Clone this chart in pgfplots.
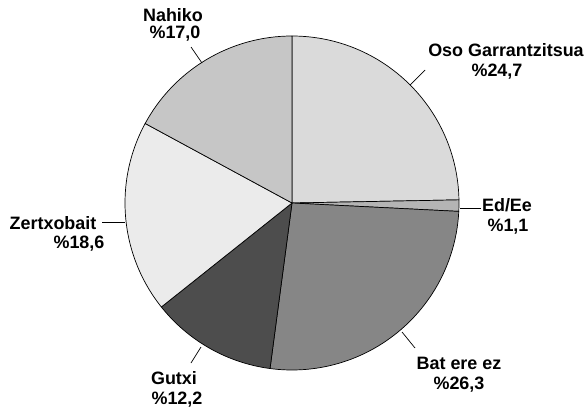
\documentclass[border=0pt]{standalone}
\usepackage{pgfplots}
\pgfplotsset{compat=1.18}
\usepackage{fontspec}
\setmainfont{Liberation Sans}
\definecolor{cOso}{HTML}{DADADA}
\definecolor{cEd}{HTML}{B4B4B4}
\definecolor{cBat}{HTML}{868686}
\definecolor{cGut}{HTML}{4D4D4D}
\definecolor{cZer}{HTML}{EBEBEB}
\definecolor{cNah}{HTML}{C6C6C6}
% data (percent), clockwise from 12 o'clock
\def\vOso{24.7}
\def\vEd{1.1}
\def\vBat{26.3}
\def\vGut{12.2}
\def\vZer{18.6}
\def\vNah{17.0}
\def\R{167bp}
\begin{document}
\begin{tikzpicture}
\begin{axis}[scale only axis, width=588bp, height=409bp,
  xmin=0, xmax=588, ymin=0, ymax=409, y dir=reverse,
  hide axis, clip=false]
\path (axis cs:0,0) rectangle (axis cs:588,409);
\tikzset{sec/.style={draw=black, line width=0.7bp, line join=round}}
\fill[cOso, sec] (axis cs:292,203) -- ++(90:\R) arc[start angle=90, end angle={90-(\vOso)*3.6}, radius=\R] -- cycle;
\fill[cEd, sec] (axis cs:292,203) -- ++({90-(\vOso)*3.6}:\R) arc[start angle={90-(\vOso)*3.6}, end angle={90-(\vOso+\vEd)*3.6}, radius=\R] -- cycle;
\fill[cBat, sec] (axis cs:292,203) -- ++({90-(\vOso+\vEd)*3.6}:\R) arc[start angle={90-(\vOso+\vEd)*3.6}, end angle={90-(\vOso+\vEd+\vBat)*3.6}, radius=\R] -- cycle;
\fill[cGut, sec] (axis cs:292,203) -- ++({90-(\vOso+\vEd+\vBat)*3.6}:\R) arc[start angle={90-(\vOso+\vEd+\vBat)*3.6}, end angle={90-(\vOso+\vEd+\vBat+\vGut)*3.6}, radius=\R] -- cycle;
\fill[cZer, sec] (axis cs:292,203) -- ++({90-(\vOso+\vEd+\vBat+\vGut)*3.6}:\R) arc[start angle={90-(\vOso+\vEd+\vBat+\vGut)*3.6}, end angle={90-(\vOso+\vEd+\vBat+\vGut+\vZer)*3.6}, radius=\R] -- cycle;
\fill[cNah, sec] (axis cs:292,203) -- ++({90-(\vOso+\vEd+\vBat+\vGut+\vZer)*3.6}:\R) arc[start angle={90-(\vOso+\vEd+\vBat+\vGut+\vZer)*3.6}, end angle=-270, radius=\R] -- cycle;
% leader lines
\draw[line width=0.7bp] (axis cs:191,47) -- (axis cs:202,63);
\draw[line width=0.7bp] (axis cs:425,70) -- (axis cs:410,85);
\draw[line width=0.7bp] (axis cs:460,208) -- (axis cs:481,208);
\draw[line width=0.7bp] (axis cs:402,332) -- (axis cs:415,348);
\draw[line width=0.7bp] (axis cs:201,347) -- (axis cs:191,363);
\draw[line width=0.7bp] (axis cs:102,222) -- (axis cs:125,222);
% labels
\tikzset{lab/.style={anchor=base, inner sep=0pt, font=\fontsize{18}{20}\selectfont\bfseries}}
\node[lab] at (axis cs:173,21.5) {Nahiko};
\node[lab] at (axis cs:175,38.5) {\%17,0};
\node[lab] at (axis cs:506,56.5) {Oso Garrantzitsua};
\node[lab] at (axis cs:497,76.5) {\%24,7};
\node[lab] at (axis cs:507,211.5) {Ed/Ee};
\node[lab] at (axis cs:508,231.5) {\%1,1};
\node[lab] at (axis cs:459,369.5) {Bat ere ez};
\node[lab] at (axis cs:459,389.5) {\%26,3};
\node[lab] at (axis cs:174,384.5) {Gutxi};
\node[lab] at (axis cs:177,404.5) {\%12,2};
\node[lab] at (axis cs:53,229.5) {Zertxobait};
\node[lab] at (axis cs:79,248.5) {\%18,6};
\end{axis}
\end{tikzpicture}
\end{document}
